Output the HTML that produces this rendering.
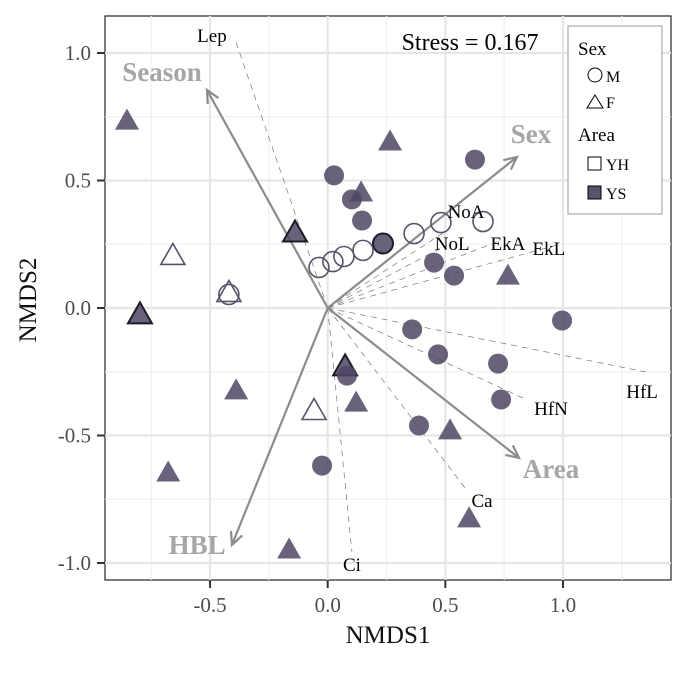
<!DOCTYPE html>
<html><head><meta charset="utf-8"><style>
body{margin:0;background:#fff}
svg text{font-family:"Liberation Serif",serif}
</style></head><body>
<svg id="c" width="684" height="668" xmlns="http://www.w3.org/2000/svg">
<rect x="105" y="16" width="566" height="564" fill="#fff" stroke="#333" stroke-width="1.3"/>
<g id="grid"></g>
<g id="vec"></g>
<g id="pts"></g>
<text x="470" y="50" font-size="24" text-anchor="middle">Stress = 0.167</text>
<g>
<rect x="568" y="26" width="94" height="188" fill="#fff" stroke="#999"/>
<text x="578" y="55" font-size="19">Sex</text>
<circle cx="595" cy="75" r="7" fill="none" stroke="#000"/>
<text x="606" y="82" font-size="16">M</text>
<polygon points="595,95 603,108 587,108" fill="none" stroke="#000"/>
<text x="606" y="108" font-size="16">F</text>
<text x="578" y="141" font-size="19">Area</text>
<rect x="588" y="157" width="13" height="13" fill="none" stroke="#000"/>
<text x="606" y="170" font-size="16">YH</text>
<rect x="588" y="186" width="13" height="13" fill="#5a526a" stroke="#000"/>
<text x="606" y="199" font-size="16">YS</text>
</g>
<text x="388" y="643" font-size="25" text-anchor="middle" fill="#111">NMDS1</text>
<text x="36" y="300" font-size="25" text-anchor="middle" fill="#111" transform="rotate(-90 36 300)">NMDS2</text>
</svg>
<script>
const xTicks=[-0.5,0,0.5,1.0];
const xTickLabels=["-0.5","0.0","0.5","1.0"];
const yTicks=[-1,-0.5,0,0.5,1];
const yTickLabels=["-1.0","-0.5","0.0","0.5","1.0"];
const fTriYS=[[-0.853,0.735],[0.265,0.653],[0.142,0.453],[0.766,0.127],[-0.389,-0.323],[0.121,-0.371],[0.520,-0.480],[-0.678,-0.645],[0.601,-0.825],[-0.164,-0.947]];
const fTriYSdark=[[-0.139,0.296],[-0.798,-0.025],[0.074,-0.229]];
const fTriYH=[[-0.658,0.206],[-0.420,0.061],[-0.058,-0.402]];
const mCirYS=[[0.027,0.520],[0.103,0.426],[0.146,0.343],[0.626,0.582],[0.452,0.178],[0.537,0.127],[0.359,-0.084],[0.469,-0.182],[0.724,-0.218],[0.996,-0.049],[0.737,-0.359],[0.082,-0.265],[0.388,-0.461],[-0.024,-0.618]];
const mCirYSdark=[[0.235,0.253]];
const mCirYH=[[-0.037,0.159],[0.022,0.182],[0.069,0.202],[0.150,0.226],[0.367,0.292],[0.481,0.335],[0.660,0.339],[-0.420,0.053]];
const envNames=["Season","Sex","Area","HBL"];
const envVecs=[[-0.513,0.855],[0.804,0.592],[0.813,-0.588],[-0.407,-0.929]];
const envLabPos=[[-0.704,0.890],[0.864,0.647],[0.949,-0.667],[-0.555,-0.965]];
const spNames=["Lep","NoA","NoL","EkA","EkL","HfL","HfN","Ca","Ci"];
const spVecs=[[-0.39,1.043],[0.50,0.30],[0.49,0.24],[0.72,0.26],[0.974,0.247],[1.353,-0.251],[0.83,-0.353],[0.594,-0.718],[0.103,-0.957]];
const spLabPos=[[-0.492,1.043],[0.588,0.353],[0.529,0.227],[0.766,0.227],[0.94,0.208],[1.336,-0.353],[0.949,-0.42],[0.656,-0.78],[0.103,-1.031]];
const X=v=>327.7+v*235.3, Y=v=>308-v*255;
const NS="http://www.w3.org/2000/svg";
function mk(p,t,a){const e=document.createElementNS(NS,t);for(const k in a)e.setAttribute(k,a[k]);p.appendChild(e);return e;}
const g=document.getElementById('grid'),svg=document.getElementById('c');
[-0.75,-0.25,0.25,0.75,1.25].forEach(v=>{const e=mk(g,'line',{x1:X(v),x2:X(v),y1:16,y2:580,stroke:'#f0f0f0','stroke-width':1.2});

});
[-0.75,-0.25,0.25,0.75].forEach(v=>{const e=mk(g,'line',{x1:105,x2:671,y1:Y(v),y2:Y(v),stroke:'#f0f0f0','stroke-width':1.2});

});
xTicks.forEach((v,i)=>{const e=mk(g,'line',{x1:X(v),x2:X(v),y1:16,y2:580,stroke:'#e6e6e6','stroke-width':2.2});


const t=mk(svg,'text',{x:X(v),y:612,'font-size':21,'text-anchor':'middle',fill:'#4d4d4d'});t.textContent=xTickLabels[i];


mk(svg,'line',{x1:X(v),x2:X(v),y1:580,y2:588,stroke:'#333','stroke-width':2});});
yTicks.forEach((v,i)=>{const e=mk(g,'line',{x1:105,x2:671,y1:Y(v),y2:Y(v),stroke:'#e6e6e6','stroke-width':2.2});


const t=mk(svg,'text',{x:91,y:Y(v)+7,'font-size':21,'text-anchor':'end',fill:'#4d4d4d'});t.textContent=yTickLabels[i];


mk(svg,'line',{x1:97,x2:105,y1:Y(v),y2:Y(v),stroke:'#333','stroke-width':2});});
const vg=document.getElementById('vec');
spVecs.forEach((v,i)=>{const l=mk(vg,'line',{x1:X(0),y1:Y(0),x2:X(v[0]),y2:Y(v[1]),stroke:'#777','stroke-width':0.7,'stroke-dasharray':'6,5'});

});
const o=document.getElementById('pts');
function tri(c,fill,stroke,name,sw){const x=X(c[0]),y=Y(c[1]);const e=mk(o,'polygon',{points:`${x},${y-12} ${x+12},${y+9} ${x-12},${y+9}`,fill:fill,stroke:stroke,'stroke-width':sw,'fill-opacity':fill=='none'?1:0.85});

}
function cir(c,fill,stroke,name,sw){const e=mk(o,'circle',{cx:X(c[0]),cy:Y(c[1]),r:10,fill:fill,stroke:stroke,'stroke-width':sw,'fill-opacity':fill=='none'?1:0.85});

}
fTriYS.forEach(c=>tri(c,'#4f4663','none','female-ys-point',0));
fTriYSdark.forEach(c=>tri(c,'#4f4663','#1e1a28','female-ys-point',2));
fTriYH.forEach(c=>tri(c,'none','#5a526a','female-yh-point',1.6));
mCirYS.forEach(c=>cir(c,'#4f4663','none','male-ys-point',0));
mCirYSdark.forEach(c=>cir(c,'#4f4663','#1e1a28','male-ys-point',2));
mCirYH.forEach(c=>cir(c,'none','#5a526a','male-yh-point',1.6));
envVecs.forEach((v,i)=>{const x2=X(v[0]),y2=Y(v[1]);const l=mk(vg,'line',{x1:X(0),y1:Y(0),x2:x2,y2:y2,stroke:'#8c8c8c','stroke-width':2.2});


const a=Math.atan2(y2-Y(0),x2-X(0));
const h=mk(vg,'polyline',{points:`${x2-14*Math.cos(a-0.45)},${y2-14*Math.sin(a-0.45)} ${x2},${y2} ${x2-14*Math.cos(a+0.45)},${y2-14*Math.sin(a+0.45)}`,fill:'none',stroke:'#8c8c8c','stroke-width':2.2});

});
envLabPos.forEach((p,i)=>{const t=mk(svg,'text',{x:X(p[0]),y:Y(p[1]),'font-size':27,'font-weight':'bold',fill:'#a6a6a6','text-anchor':'middle'});t.textContent=envNames[i];

});
spLabPos.forEach((p,i)=>{const t=mk(svg,'text',{x:X(p[0]),y:Y(p[1]),'font-size':19,'text-anchor':'middle'});t.textContent=spNames[i];

});
</script>
</body></html>
